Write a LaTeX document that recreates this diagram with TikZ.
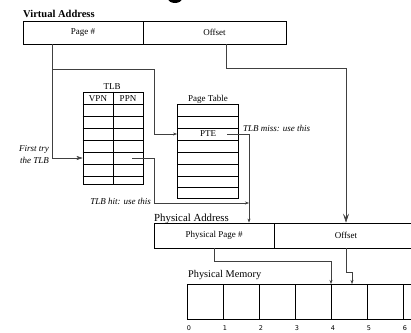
\documentclass[tikz,border=0pt]{standalone}
\usepackage{fontspec}
\setmainfont{Liberation Serif}
\setsansfont{DejaVu Sans}
\usetikzlibrary{arrows.meta,calc}
\begin{document}
\begin{tikzpicture}[x=1pt,y=-1pt,
  box/.style={draw,line width=0.9pt,inner sep=0pt,font=\fontsize{9}{10}\selectfont},
  gridline/.style={line width=0.6pt},
  conn/.style={draw=black!75,line width=0.5pt},
  arrsm/.style={-{Stealth[length=4pt,width=3pt]}},
  arrmid/.style={-{Stealth[length=6pt,width=4pt,inset=1.5pt]}},
  arrbig/.style={-{Stealth[length=9pt,width=6pt,inset=4pt]}},
  lab/.style={font=\fontsize{9}{10}\selectfont, inner sep=0pt},
  ital/.style={font=\fontsize{9}{12}\selectfont\itshape, inner sep=0pt},
  title/.style={font=\fontsize{10.8}{12}\selectfont, inner sep=0pt},
  num/.style={font=\sffamily\fontsize{6.5}{7}\selectfont, inner sep=0pt}]
\useasboundingbox (0,0) rectangle (411,332);
\begin{scope}
\clip (0,0) rectangle (411,332);
\fill (175,-1.5) ellipse [x radius=7, y radius=4.5];
\end{scope}
% virtual address
\node[title, font=\fontsize{10.5}{12}\selectfont\bfseries, anchor=base west] (vat) at (23,17.5) {Virtual Address};
\node[box,minimum width=120pt,minimum height=23pt] (va1) at (83,32.5) {Page \#};
\node[box,minimum width=143pt,minimum height=23pt] (va2) at (214.5,32.5) {Offset};
% TLB
\node[lab] (tlbt) at (112,87) {TLB};
\node[box,minimum width=60pt,minimum height=92pt] (tlb) at (113,138) {};
\draw[gridline] (tlb.north) -- (tlb.south);
\foreach \y in {104,116,128,140,152,164,176}
  \draw[gridline] (tlb.west |- 0,\y) -- (tlb.east |- 0,\y);
\node[lab] (vpn) at (98,98.5) {VPN};
\node[lab] (ppn) at (128,98.5) {PPN};
% page table
\node[lab] (ptt) at (208,99) {Page Table};
\node[box,minimum width=60.5pt,minimum height=93.5pt] (pt) at (207.75,151.25) {};
\foreach \y in {116,128,140,152,164,176,187}
  \draw[gridline] (pt.west |- 0,\y) -- (pt.east |- 0,\y);
\node[lab] (pte) at (208,134) {PTE};
% physical address
\node[title, anchor=base west] (pat) at (154,221) {Physical Address};
\node[box,minimum width=120pt,minimum height=25pt] (pa1) at (214,235.5) {Physical Page \#};
\node[box,minimum width=144pt,minimum height=25pt] (pa2) at (346,235.5) {Offset};
% physical memory
\node[title, font=\fontsize{10.3}{12}\selectfont, anchor=base west] (pmt) at (188,277) {Physical Memory};
\foreach \i in {0,...,6}
  \node[box,minimum width=36pt,minimum height=35pt,anchor=north west] (m\i) at (187+36*\i,284) {};
\foreach \i in {0,...,6}
  \node[num] (n\i) at ([xshift=2pt,yshift=-8pt]m\i.south west) {\i};
% coordinates
\coordinate (tlbin) at (tlb.west |- 0,158);
\coordinate (tlbhit) at (132,158);
\coordinate (ptein) at (pt.west |- 0,134);
\coordinate (pteout) at (227,134);
\coordinate (vpg) at ([xshift=30pt]va1.south west);
\coordinate (br) at (vpg |- 0,69);
\coordinate (voff) at ([xshift=84pt]va2.south west);
\coordinate (pain) at ([xshift=35pt]pa1.north);
% connectors
\draw[conn,arrmid] (vpg) |- (tlbin);
\draw[conn,arrsm] (br) -| (154,134) -- (ptein);
\draw[conn,arrbig] (voff) -- ++(0,24) -| (pa2.north);
\draw[conn,arrsm] (pteout) -| (pain);
\draw[conn,arrsm] (tlbhit) -- ++(22,0) |- (pain |- 0,203);
\draw[conn,arrsm] (pa1.south) -- ++(0,13) -| (m4.north west);
\draw[conn,arrsm] (pa2.south) -- ++(0,24) -| ([xshift=21pt]m4.north west);
% labels
\node[ital, align=right, anchor=east] (ft) at (49,155) {First try\\the TLB};
\node[ital, anchor=east] (hit) at (151,201) {TLB hit: use this};
\node[ital, anchor=west] (miss) at (243,128) {TLB miss: use this};
\end{tikzpicture}
\end{document}
